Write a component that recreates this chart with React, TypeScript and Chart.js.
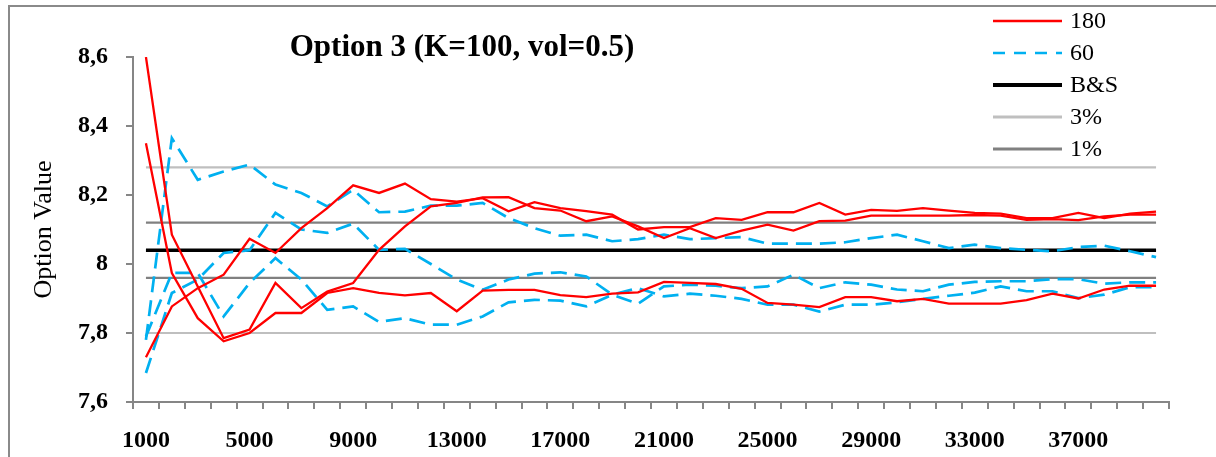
import React, { useEffect, useRef } from "react";
import { Chart, registerables } from "chart.js";

Chart.register(...registerables);

// ---------- data ----------
const categories = [
  "1000", "2000", "3000", "4000", "5000", "6000", "7000", "8000", "9000", "10000",
  "11000", "12000", "13000", "14000", "15000", "16000", "17000", "18000", "19000", "20000",
  "21000", "22000", "23000", "24000", "25000", "26000", "27000", "28000", "29000", "30000",
  "31000", "32000", "33000", "34000", "35000", "36000", "37000", "38000", "39000", "40000",
];

// three runs with 180 steps
const run180A = [
  8.6, 8.085, 7.935, 7.785, 7.81, 7.945, 7.872, 7.92, 7.945, 8.041,
  8.109, 8.167, 8.177, 8.193, 8.194, 8.162, 8.155, 8.124, 8.138, 8.109,
  8.075, 8.104, 8.075, 8.097, 8.114, 8.097, 8.124, 8.126, 8.14, 8.14,
  8.14, 8.14, 8.142, 8.14, 8.128, 8.13, 8.127, 8.138, 8.143, 8.143,
];
const run180B = [
  7.73, 7.877, 7.93, 7.969, 8.073, 8.032, 8.104, 8.162, 8.228, 8.206,
  8.233, 8.188, 8.181, 8.191, 8.153, 8.179, 8.162, 8.153, 8.143, 8.1,
  8.107, 8.107, 8.133, 8.128, 8.15, 8.15, 8.177, 8.143, 8.157, 8.154,
  8.162, 8.155, 8.148, 8.146, 8.133, 8.133, 8.148, 8.133, 8.146, 8.152,
];
const run180C = [
  8.35, 7.974, 7.843, 7.776, 7.8, 7.858, 7.858, 7.916, 7.93, 7.916,
  7.909, 7.916, 7.863, 7.923, 7.925, 7.925, 7.91, 7.904, 7.914, 7.918,
  7.948, 7.945, 7.942, 7.928, 7.887, 7.882, 7.875, 7.904, 7.904, 7.892,
  7.899, 7.885, 7.885, 7.885, 7.895, 7.914, 7.9, 7.926, 7.937, 7.937,
];

// three runs with 60 steps
const run60A = [
  7.78, 8.365, 8.244, 8.268, 8.288, 8.23, 8.206, 8.167, 8.215, 8.15,
  8.152, 8.169, 8.169, 8.177, 8.133, 8.104, 8.082, 8.085, 8.066, 8.072,
  8.085, 8.072, 8.075, 8.078, 8.059, 8.059, 8.059, 8.063, 8.075, 8.085,
  8.066, 8.046, 8.056, 8.046, 8.041, 8.037, 8.049, 8.053, 8.037, 8.02,
];
const run60B = [
  7.684, 7.916, 7.955, 8.032, 8.04, 8.148, 8.1, 8.09, 8.117, 8.041,
  8.044, 8.0, 7.955, 7.925, 7.955, 7.972, 7.976, 7.964, 7.911, 7.885,
  7.935, 7.94, 7.937, 7.93, 7.935, 7.969, 7.93, 7.947, 7.94, 7.926,
  7.921, 7.94, 7.948, 7.95, 7.95, 7.956, 7.956, 7.943, 7.947, 7.947,
];
const run60C = [
  7.79, 7.974, 7.974, 7.848, 7.945, 8.017, 7.955, 7.867, 7.877, 7.832,
  7.843, 7.824, 7.824, 7.848, 7.889, 7.896, 7.894, 7.877, 7.911, 7.93,
  7.906, 7.914, 7.908, 7.899, 7.882, 7.882, 7.862, 7.882, 7.882, 7.889,
  7.899, 7.908, 7.917, 7.935, 7.921, 7.921, 7.901, 7.911, 7.933, 7.933,
];

const bsLevel = 8.04;
const band3Levels = [8.28, 7.8];
const band1Levels = [8.12, 7.96];
const yTickValues = [7.6, 7.8, 8.0, 8.2, 8.4, 8.6];

const titleText = "Option 3 (K=100, vol=0.5)";
const yAxisTitle = "Option Value";
const legendLabels = ["180", "60", "B&S", "3%", "1%"];

// ---------- styles ----------
const SERIF = "'Liberation Serif', 'Times New Roman', serif";
const RED = "#FF0000";
const BLUE = "#00B0F0";
const BLACK = "#000000";
const LIGHT_GRAY = "#BFBFBF";
const MID_GRAY = "#808080";
const AXIS_GRAY = "#868686";

const legendStyles = [
  { color: RED, width: 2.5, dash: [] as number[] },
  { color: BLUE, width: 2.5, dash: [12, 9] },
  { color: BLACK, width: 4, dash: [] as number[] },
  { color: LIGHT_GRAY, width: 3, dash: [] as number[] },
  { color: MID_GRAY, width: 3, dash: [] as number[] },
];

const fmtTick = (v: number) => {
  const r = Math.round(v * 10) / 10;
  return String(r).replace(".", ",");
};

const overlayPlugin = {
  id: "overlay",
  afterDraw(chart: any) {
    const ctx = chart.ctx as CanvasRenderingContext2D;
    ctx.save();
    ctx.fillStyle = "#000";
    ctx.font = `bold 31px ${SERIF}`;
    ctx.textAlign = "center";
    ctx.textBaseline = "middle";
    ctx.fillText(titleText, 462, 48);

    ctx.font = `24px ${SERIF}`;
    ctx.textAlign = "left";
    legendLabels.forEach((lab, i) => {
      const y = 21 + i * 32;
      const st = legendStyles[i];
      ctx.beginPath();
      ctx.strokeStyle = st.color;
      ctx.lineWidth = st.width;
      ctx.setLineDash(st.dash);
      ctx.moveTo(993, y);
      ctx.lineTo(1062, y);
      ctx.stroke();
      ctx.setLineDash([]);
      ctx.fillStyle = "#000";
      ctx.fillText(lab, 1070, y + 1);
    });
    ctx.restore();
  },
};

const line = (label: string, data: number[], color: string, width: number, dash: number[] = []) => ({
  label,
  data,
  borderColor: color,
  backgroundColor: color,
  borderWidth: width,
  borderDash: dash,
  pointRadius: 0,
  pointHoverRadius: 0,
  tension: 0,
  fill: false,
});

export default function App() {
  const canvasRef = useRef<HTMLCanvasElement | null>(null);

  useEffect(() => {
    if (!canvasRef.current) return;
    const constant = (v: number) => categories.map(() => v);
    const chart = new Chart(canvasRef.current, {
      type: "line",
      data: {
        labels: categories,
        datasets: [
          line("180", run180A, RED, 2.3),
          line("180", run180B, RED, 2.3),
          line("180", run180C, RED, 2.3),
          line("60", run60A, BLUE, 2.7, [16, 8]),
          line("60", run60B, BLUE, 2.7, [16, 8]),
          line("60", run60C, BLUE, 2.7, [16, 8]),
          line("B&S", constant(bsLevel), BLACK, 3.5),
          line("3%", constant(band3Levels[0]), LIGHT_GRAY, 2.2),
          line("3%", constant(band3Levels[1]), LIGHT_GRAY, 2.2),
          line("1%", constant(band1Levels[0]), MID_GRAY, 2.2),
          line("1%", constant(band1Levels[1]), MID_GRAY, 2.2),
        ],
      },
      options: {
        responsive: false,
        animation: false,
        devicePixelRatio: 1,
        layout: { padding: { top: 57, right: 47, bottom: 0, left: 0 } },
        plugins: {
          legend: { display: false },
          title: { display: false },
          tooltip: { enabled: false },
        },
        scales: {
          x: {
            type: "category",
            offset: true,
            grid: {
              offset: true,
              drawOnChartArea: false,
              drawTicks: true,
              tickLength: 7,
              color: AXIS_GRAY,
              lineWidth: 2,
            },
            border: { display: true, color: AXIS_GRAY, width: 2 },
            ticks: {
              autoSkip: false,
              maxRotation: 0,
              minRotation: 0,
              padding: 17,
              color: "#000",
              font: { family: SERIF, size: 24, weight: "bold" },
              callback: (_v: any, i: number) => (i % 4 === 0 ? categories[i] : ""),
            },
            afterFit: (s: any) => {
              s.height = 55;
            },
          },
          y: {
            min: 7.6,
            max: 8.6,
            afterBuildTicks: (s: any) => {
              s.ticks = yTickValues.map((v) => ({ value: v }));
            },
            afterFit: (s: any) => {
              s.width = 133;
            },
            grid: {
              drawOnChartArea: false,
              drawTicks: true,
              tickLength: 7,
              color: AXIS_GRAY,
              lineWidth: 2,
            },
            border: { display: true, color: AXIS_GRAY, width: 2 },
            ticks: {
              padding: 18,
              color: "#000",
              font: { family: SERIF, size: 24, weight: "bold" },
              callback: (v: any) => fmtTick(Number(v)),
            },
            title: {
              display: true,
              text: yAxisTitle,
              color: "#000",
              font: { family: SERIF, size: 26 },
              padding: { top: 29, bottom: 0 },
            },
          },
        },
      },
      plugins: [overlayPlugin],
    } as any);
    return () => chart.destroy();
  }, []);

  return (
    <div
      style={{
        position: "fixed",
        left: 0,
        top: 0,
        width: 1216,
        height: 457,
        background: "#fff",
        overflow: "hidden",
      }}
    >
      <div
        style={{
          position: "absolute",
          left: 8,
          top: 5,
          width: 1300,
          height: 600,
          border: "2px solid #8A8A8A",
          boxSizing: "border-box",
        }}
      />
      <canvas
        ref={canvasRef}
        width={1216}
        height={457}
        style={{ position: "absolute", left: 0, top: 0 }}
      />
    </div>
  );
}
